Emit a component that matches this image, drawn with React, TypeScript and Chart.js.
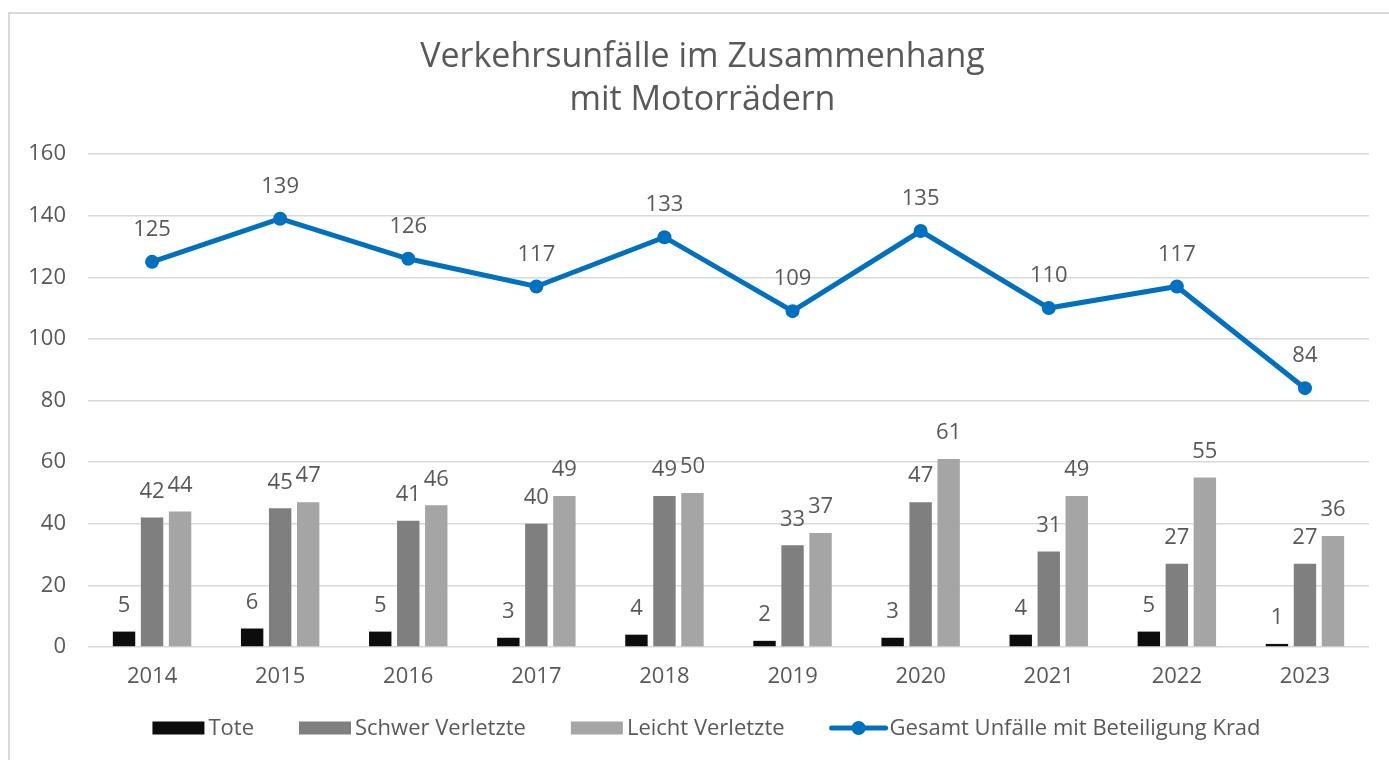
import React, { useEffect, useRef } from "react";
import { Chart, registerables } from "chart.js";

Chart.register(...registerables);

const categories = ["2014", "2015", "2016", "2017", "2018", "2019", "2020", "2021", "2022", "2023"];
const tote = [5, 6, 5, 3, 4, 2, 3, 4, 5, 1];
const schwerVerletzte = [42, 45, 41, 40, 49, 33, 47, 31, 27, 27];
const leichtVerletzte = [44, 47, 46, 49, 50, 37, 61, 49, 55, 36];
const gesamtUnfaelle = [125, 139, 126, 117, 133, 109, 135, 110, 117, 84];
const yMin = 0;
const yMax = 160;
const yStep = 20;
const titleLines = ["Verkehrsunfälle im Zusammenhang", "mit Motorrädern"];
const seriesNames = ["Tote", "Schwer Verletzte", "Leicht Verletzte", "Gesamt Unfälle mit Beteiligung Krad"];

const FONT = "'Open Sans', 'Noto Sans', sans-serif";
const TEXT = "#595959";
const COLORS = ["#0d0d0d", "#7f7f7f", "#a5a5a5", "#0070c0"];
const LABEL_SIZE = 22;

const W = 1389;
const H = 748;

const framePlugin = {
  id: "frame",
  beforeDraw(chart: any) {
    const ctx = chart.ctx;
    ctx.save();
    ctx.fillStyle = "#ffffff";
    ctx.fillRect(0, 0, chart.width, chart.height);
    ctx.strokeStyle = "#d9d9d9";
    ctx.lineWidth = 2;
    ctx.beginPath();
    ctx.moveTo(1, chart.height);
    ctx.lineTo(1, 1);
    ctx.lineTo(chart.width, 1);
    ctx.stroke();
    ctx.restore();
  },
};

const titlePlugin = {
  id: "customTitle",
  afterDraw(chart: any) {
    const ctx = chart.ctx;
    ctx.save();
    ctx.fillStyle = TEXT;
    ctx.font = `34px ${FONT}`;
    ctx.textAlign = "center";
    ctx.textBaseline = "middle";
    const cx = (chart.chartArea.left + chart.chartArea.right) / 2 - 26;
    titleLines.forEach((l, i) => ctx.fillText(l, cx, 45 + i * 43));
    ctx.restore();
  },
};

const labelsPlugin = {
  id: "dataLabels",
  afterDatasetsDraw(chart: any) {
    const ctx = chart.ctx;
    ctx.save();
    ctx.fillStyle = TEXT;
    ctx.font = `${LABEL_SIZE}px ${FONT}`;
    ctx.textAlign = "center";
    ctx.textBaseline = "middle";
    chart.data.datasets.forEach((ds: any, di: number) => {
      const meta = chart.getDatasetMeta(di);
      const off = ds.type === "line" ? 32 : 26;
      meta.data.forEach((el: any, i: number) => {
        ctx.fillText(String(ds.data[i]), el.x, el.y - off);
      });
    });
    ctx.restore();
  },
};

const legendPlugin = {
  id: "customLegend",
  afterDraw(chart: any) {
    const ctx = chart.ctx;
    ctx.save();
    ctx.font = `${LABEL_SIZE}px ${FONT}`;
    ctx.textBaseline = "middle";
    const boxW = 52;
    const gapText = 4;
    const gapItem = 45;
    const widths = seriesNames.map((n) => boxW + gapText + ctx.measureText(n).width);
    const total = widths.reduce((a, b) => a + b, 0) + gapItem * (seriesNames.length - 1);
    let x = (chart.width - 8) / 2 - total / 2 + 6;
    const y = 716;
    seriesNames.forEach((n, i) => {
      if (i < 3) {
        ctx.fillStyle = COLORS[i];
        ctx.fillRect(x, y - 6.5, boxW, 13);
      } else {
        ctx.strokeStyle = COLORS[3];
        ctx.lineWidth = 5;
        ctx.lineCap = "round";
        ctx.beginPath();
        ctx.moveTo(x + 2, y);
        ctx.lineTo(x + boxW + 4, y);
        ctx.stroke();
        ctx.fillStyle = COLORS[3];
        ctx.beginPath();
        ctx.arc(x + boxW / 2 + 3, y, 7, 0, Math.PI * 2);
        ctx.fill();
      }
      ctx.fillStyle = TEXT;
      ctx.textAlign = "left";
      ctx.fillText(n, x + boxW + gapText + (i === 3 ? 4 : 0), y + 1);
      x += widths[i] + gapItem;
    });
    ctx.restore();
  },
};

export default function App() {
  const ref = useRef<HTMLCanvasElement | null>(null);
  useEffect(() => {
    if (!ref.current) return;
    const barCommon = {
      type: "bar" as const,
      categoryPercentage: 0.656,
      barPercentage: 0.8,
      order: 1,
      borderWidth: 0,
    };
    const chart = new Chart(ref.current, {
      type: "bar",
      data: {
        labels: categories,
        datasets: [
          { ...barCommon, label: seriesNames[0], data: tote, backgroundColor: COLORS[0] },
          { ...barCommon, label: seriesNames[1], data: schwerVerletzte, backgroundColor: COLORS[1] },
          { ...barCommon, label: seriesNames[2], data: leichtVerletzte, backgroundColor: COLORS[2] },
          {
            type: "line" as const,
            label: seriesNames[3],
            data: gesamtUnfaelle,
            borderColor: COLORS[3],
            backgroundColor: COLORS[3],
            borderWidth: 5,
            pointRadius: 7,
            pointBackgroundColor: COLORS[3],
            pointBorderWidth: 0,
            tension: 0,
            order: 0,
          } as any,
        ],
      },
      options: {
        responsive: false,
        animation: false,
        devicePixelRatio: 1,
        layout: { padding: { top: 142, right: 28, bottom: 63, left: 0 } },
        plugins: {
          legend: { display: false },
          title: { display: false },
          tooltip: { enabled: false },
        },
        scales: {
          x: {
            grid: { display: false, drawTicks: false },
            border: { display: false },
            ticks: { color: TEXT, font: { family: FONT, size: LABEL_SIZE }, padding: 17 },
            afterFit: (s: any) => {
              s.height = 50;
            },
          },
          y: {
            min: yMin,
            max: yMax,
            grid: { color: "#d9d9d9", lineWidth: 1.5, drawTicks: false },
            border: { display: false },
            ticks: { stepSize: yStep, color: TEXT, font: { family: FONT, size: LABEL_SIZE }, padding: 22 },
            afterFit: (s: any) => {
              s.width = 80;
            },
          },
        },
      },
      plugins: [framePlugin, labelsPlugin, titlePlugin, legendPlugin],
    } as any);
    return () => chart.destroy();
  }, []);
  return (
    <div style={{ position: "absolute", left: 8, top: 12, width: 1381, height: H, overflow: "hidden" }}>
      <canvas ref={ref} width={W} height={H} style={{ display: "block", width: W, height: H }} />
    </div>
  );
}
